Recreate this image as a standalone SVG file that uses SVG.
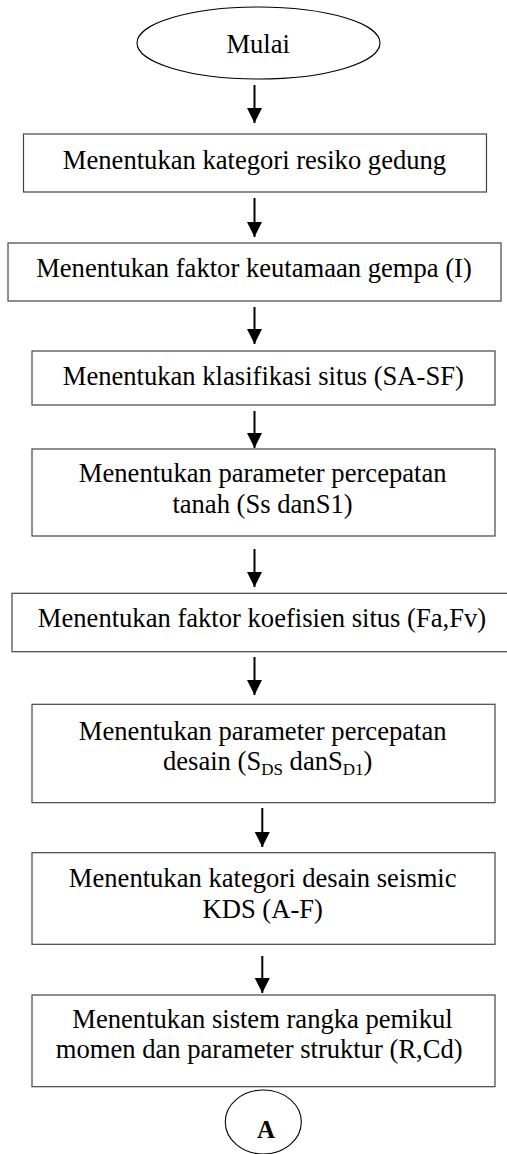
<svg xmlns="http://www.w3.org/2000/svg" width="507" height="1154" viewBox="0 0 507 1154">
  <style>
    .box { fill: #ffffff; stroke: #444444; stroke-width: 1.2; }
    .term { fill: #ffffff; stroke: #000000; stroke-width: 1.1; }
    .lbl { font-family: "Liberation Serif", "Times New Roman", serif; font-size: 26.6px; fill: #000000; text-anchor: middle; }
    .sub { font-size: 17px; }
    .bold { font-weight: bold; font-size: 25px; }
    .flow { stroke: #000000; stroke-width: 2; fill: none; marker-end: url(#head); }
  </style>
  <defs>
    <marker id="head" markerUnits="userSpaceOnUse" markerWidth="15" markerHeight="15" refX="15" refY="7.5" orient="auto">
      <path d="M0,0 L15,7.5 L0,15 Z" fill="#000000"/>
    </marker>
  </defs>
  <rect width="507" height="1154" fill="#ffffff"/>

  <g id="connectors">
    <line class="flow" x1="254.5" y1="85" x2="254.5" y2="123"/>
    <line class="flow" x1="254.5" y1="198" x2="254.5" y2="237"/>
    <line class="flow" x1="254.5" y1="307" x2="254.5" y2="344"/>
    <line class="flow" x1="254.5" y1="411" x2="254.5" y2="448"/>
    <line class="flow" x1="254.5" y1="549" x2="254.5" y2="587"/>
    <line class="flow" x1="254.5" y1="657" x2="254.5" y2="695"/>
    <line class="flow" x1="262.3" y1="808" x2="262.3" y2="847"/>
    <line class="flow" x1="262.3" y1="956" x2="262.3" y2="993"/>
  </g>

  <g id="start">
    <ellipse class="term" cx="258.5" cy="43" rx="121.5" ry="36"/>
    <text class="lbl" x="258.2" y="53.3">Mulai</text>
  </g>

  <g id="risk-category">
    <rect class="box" x="23.5" y="134" width="463" height="58"/>
    <text class="lbl" x="254.5" y="169.3">Menentukan kategori resiko gedung</text>
  </g>

  <g id="importance-factor">
    <rect class="box" x="8" y="243" width="493" height="58"/>
    <text class="lbl" x="254" y="276.7">Menentukan faktor keutamaan gempa (I)</text>
  </g>

  <g id="site-class">
    <rect class="box" x="32" y="351" width="463" height="54"/>
    <text class="lbl" x="263.3" y="385">Menentukan klasifikasi situs (SA-SF)</text>
  </g>

  <g id="ground-acceleration">
    <rect class="box" x="32" y="449" width="463" height="87"/>
    <text class="lbl" x="262.7" y="482">Menentukan parameter percepatan</text>
    <text class="lbl" x="262.5" y="513.3">tanah (Ss danS1)</text>
  </g>

  <g id="site-coefficient">
    <rect class="box" x="12" y="593.3" width="500" height="58.4"/>
    <text class="lbl" x="262" y="626.7">Menentukan faktor koefisien situs (Fa,Fv)</text>
  </g>

  <g id="design-acceleration">
    <rect class="box" x="32" y="704.3" width="463" height="98.4"/>
    <text class="lbl" x="262.7" y="739.5">Menentukan parameter percepatan</text>
    <text class="lbl" x="267.7" y="770">desain (S<tspan class="sub" dy="5">DS</tspan><tspan dy="-5"> danS</tspan><tspan class="sub" dy="5">D1</tspan><tspan dy="-5">)</tspan></text>
  </g>

  <g id="seismic-design-category">
    <rect class="box" x="32" y="852.7" width="463" height="91.6"/>
    <text class="lbl" x="262.7" y="886.7">Menentukan kategori desain seismic</text>
    <text class="lbl" x="262.7" y="918.3">KDS (A-F)</text>
  </g>

  <g id="frame-system">
    <rect class="box" x="32" y="995" width="463" height="91.7"/>
    <text class="lbl" x="262.5" y="1028">Menentukan sistem rangka pemikul</text>
    <text class="lbl" x="259.2" y="1057.5">momen dan parameter struktur (R,Cd)</text>
  </g>

  <g id="connector-a">
    <ellipse class="term" cx="263.3" cy="1122" rx="38" ry="32"/>
    <text class="lbl bold" x="266" y="1138">A</text>
  </g>
</svg>
